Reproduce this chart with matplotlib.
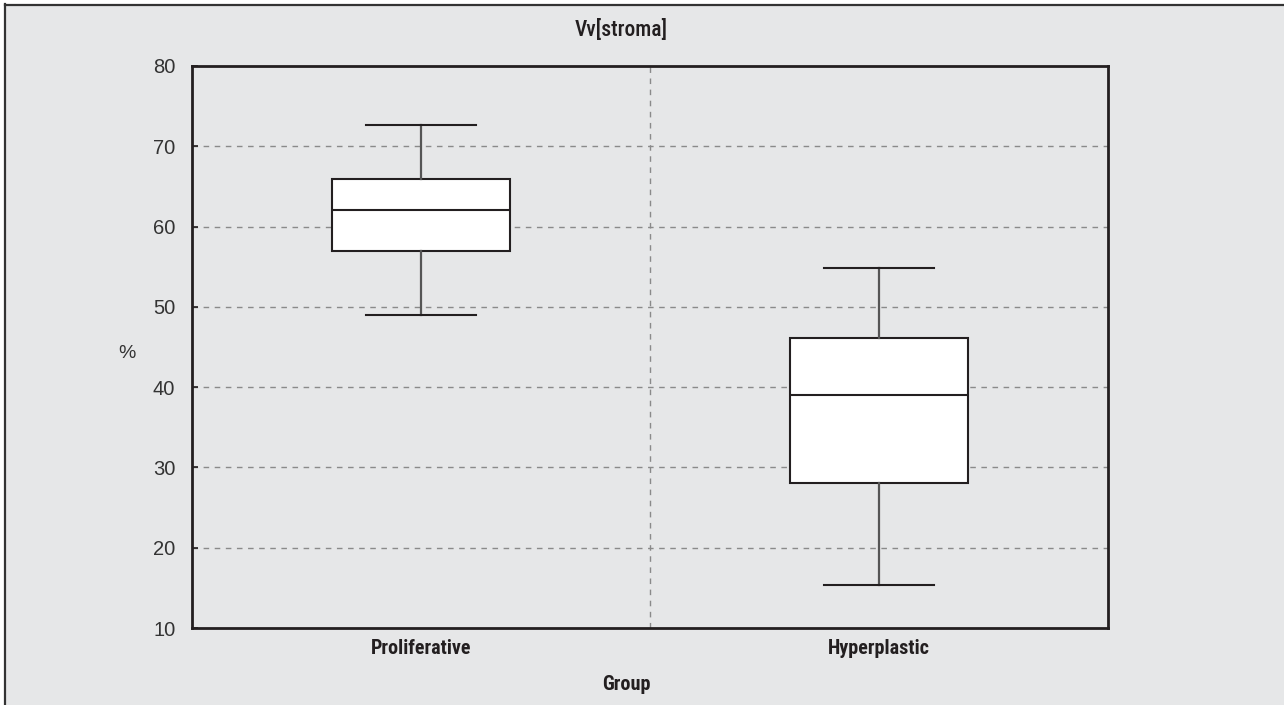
import matplotlib
matplotlib.use("Agg")
import matplotlib.pyplot as plt
from matplotlib import font_manager
from matplotlib.lines import Line2D

# ---- data ----
groups = ["Proliferative", "Hyperplastic"]
whisker_low = [49.0, 15.4]
q1 = [56.9, 28.0]
median = [62.1, 39.0]
q3 = [65.9, 46.1]
whisker_high = [72.7, 54.9]
y_ticks = [10, 20, 30, 40, 50, 60, 70, 80]
title = "Vv[stroma]"
x_label = "Group"
y_label = "%"

# ---- fonts ----
names = {f.name for f in font_manager.fontManager.ttflist}
cond = None
for cand in ["Liberation Sans Narrow", "Roboto Condensed", "Open Sans Condensed",
             "Noto Sans Condensed", "DejaVu Sans Condensed"]:
    if cand in names:
        cond = cand
        break
if cond is None:
    cond = "Liberation Sans"
num_font = "Liberation Sans" if "Liberation Sans" in names else "DejaVu Sans"

BG = "#e6e7e8"
DARK = "#231f20"

fig = plt.figure(figsize=(12.84, 7.05), dpi=100, facecolor="white")
# grey panel with frame
fig.patches.append(plt.Rectangle((5 / 1284, 0), 1, 1 - 4 / 705, transform=fig.transFigure,
                                 facecolor=BG, edgecolor="none", zorder=-10))
fig.lines.append(Line2D([5.5 / 1284, 5.5 / 1284], [0, 1 - 4 / 705], transform=fig.transFigure,
                        color="#333333", lw=1.6))
fig.lines.append(Line2D([5.5 / 1284, 1], [1 - 4.5 / 705, 1 - 4.5 / 705], transform=fig.transFigure,
                        color="#333333", lw=1.6))

ax = fig.add_axes([192 / 1284, 1 - 628 / 705, (1108 - 192) / 1284, (628 - 66) / 705])
ax.set_facecolor(BG)

stats = []
for i, g in enumerate(groups):
    stats.append(dict(label=g, whislo=whisker_low[i], q1=q1[i], med=median[i],
                      q3=q3[i], whishi=whisker_high[i], fliers=[]))

positions = list(range(1, len(groups) + 1))
ax.bxp(stats, positions=positions, widths=0.39, patch_artist=True, showfliers=False,
       capwidths=0.24,
       boxprops=dict(facecolor="white", edgecolor=DARK, linewidth=1.5),
       medianprops=dict(color=DARK, linewidth=1.5),
       whiskerprops=dict(color="#555555", linewidth=1.6),
       capprops=dict(color=DARK, linewidth=1.5),
       zorder=3)

ax.set_xlim(0.5, len(groups) + 0.5)
ax.set_ylim(y_ticks[0], y_ticks[-1])
ax.set_yticks(y_ticks)
ax.set_yticklabels([str(t) for t in y_ticks], fontfamily=num_font, fontsize=14.5, color="#333333")
ax.set_xticks(positions)
ax.set_xticklabels(groups, fontfamily=cond, fontsize=14.5, fontweight="bold", color=DARK)
ax.tick_params(axis="x", length=0, pad=8)
ax.tick_params(axis="y", direction="in", length=4, width=1.2, color=DARK, pad=12)

for t in y_ticks[1:-1]:
    ax.axhline(t, color="#8a8a8a", lw=1.0, ls=(0, (4, 4)), zorder=1)
ax.axvline(1.5, color="#8a8a8a", lw=1.0, ls=(0, (4, 4)), zorder=1)

for s in ax.spines.values():
    s.set_color(DARK)
    s.set_linewidth(2.0)

fig.text(621 / 1284, 1 - 30 / 705, title, ha="center", va="center",
         fontfamily=cond, fontsize=15.5, fontweight="medium", color=DARK)
fig.text(626 / 1284, 1 - 684 / 705, x_label, ha="center", va="center",
         fontfamily=cond, fontsize=14.5, fontweight="bold", color=DARK)
fig.text(127 / 1284, 1 - 354 / 705, y_label, ha="center", va="center",
         fontfamily=num_font, fontsize=14, color="#333333")

fig.savefig("out.png", dpi=100, facecolor="white")
